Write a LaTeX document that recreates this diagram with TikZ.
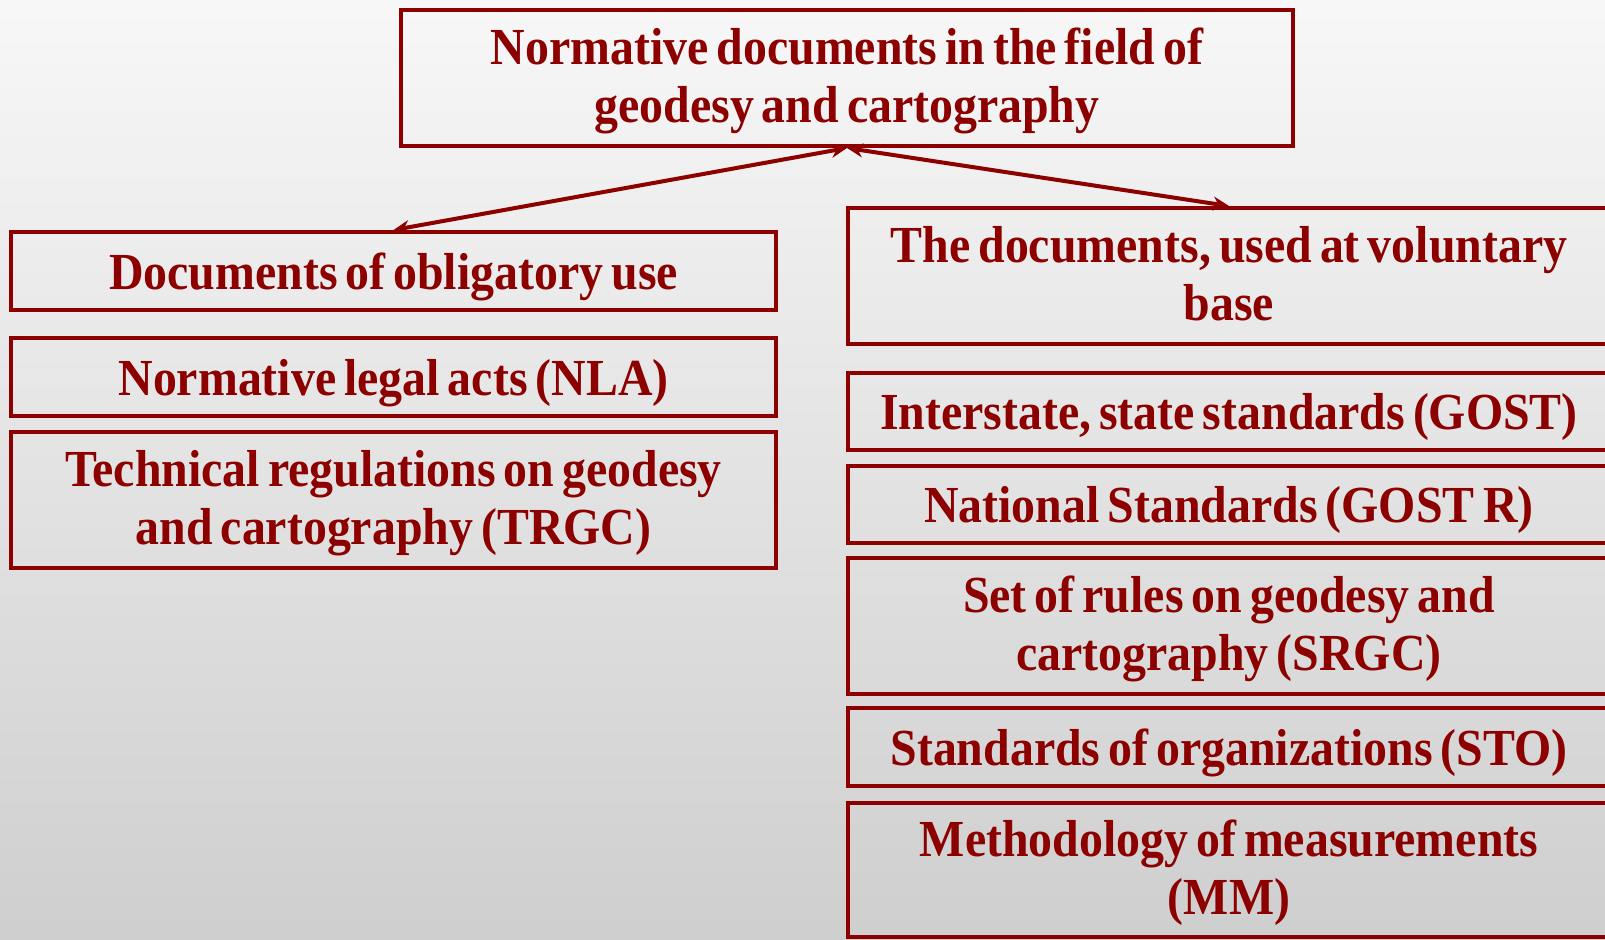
\documentclass[tikz,border=0pt]{standalone}
\usepackage{fontspec}
\setmainfont{Liberation Serif}[FakeStretch=0.92]
\usetikzlibrary{arrows.meta}
\definecolor{docred}{RGB}{140,0,0}
\begin{document}
\begin{tikzpicture}[x=1pt,y=-1pt,
	docbox/.style={draw=docred,line width=4,text=docred,align=center,inner sep=0,
		font=\fontsize{52}{58}\selectfont\bfseries,execute at begin node={\spaceskip=8pt\relax}},
	onerow/.style={docbox,minimum height=78,text width=740,text depth=0pt},
	tworow/.style={docbox,minimum height=136,text width=740,text depth=64pt},
	link/.style={docred,line width=4,{Stealth[length=16,width=14]}-{Stealth[length=16,width=14]}}]
	\useasboundingbox (0,0) rectangle (1605,939);
	\clip (0,0) rectangle (1605,939);
	\shade[top color=white!97!black,bottom color=white!81!black] (0,0) rectangle (1605,939);
	%top box
	\node[tworow,minimum width=892,text width=860] (top) at (847,78) {Normative documents in the field of\\geodesy and cartography};
	%left column
	\node[onerow,minimum width=765] (oblig) at (393.5,271) {Documents of obligatory use};
	\node[onerow,minimum width=765] (nla) at (393.5,377) {Normative legal acts (NLA)};
	\node[tworow,minimum width=765] (trgc) at (393.5,500) {Technical regulations on geodesy\\and cartography (TRGC)};
	%right column
	\node[tworow,minimum width=762] (volunt) at (1229,276) {The documents, used at voluntary\\base};
	\node[onerow,minimum width=762,minimum height=77] (gost) at (1229,411.5) {Interstate, state standards (GOST)};
	\node[onerow,minimum width=762,minimum height=77] (gostr) at (1229,504.5) {National Standards (GOST\,R)};
	\node[tworow,minimum width=762] (srgc) at (1229,626) {Set of rules on geodesy and\\cartography (SRGC)};
	\node[onerow,minimum width=762] (sto) at (1229,747) {Standards of organizations (STO)};
	\node[tworow,minimum width=762,minimum height=134] (mm) at (1229,870) {Methodology of measurements\\(MM)};
	%arrows
	\draw[link] (top.south) -- (oblig.north);
	\draw[link] (top.south) -- (volunt.north);
\end{tikzpicture}
\end{document}
